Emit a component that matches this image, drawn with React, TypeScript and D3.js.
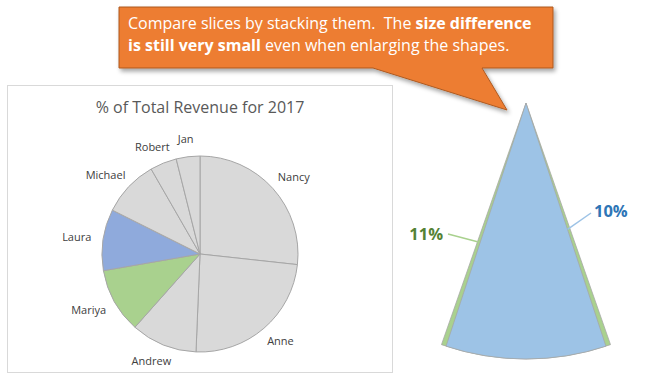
import React from "react";
import * as d3 from "d3";

const names = ["Nancy", "Anne", "Andrew", "Mariya", "Laura", "Michael", "Robert", "Jan"];
const shares = [26.7, 23.9, 10.9, 10.7, 10.1, 9.3, 4.4, 3.9];
const sliceColors = ["#D9D9D9", "#D9D9D9", "#D9D9D9", "#A9D18E", "#8FAADC", "#D9D9D9", "#D9D9D9", "#D9D9D9"];
const coneNames = ["Mariya", "Laura"];
const coneFills = ["#A9D18E", "#9DC3E6"];
const coneLabelColors = ["#548235", "#2E75B6"];
const chartTitle = "% of Total Revenue for 2017";
const calloutLine1 = [
  { t: "Compare slices by stacking them.  The ", b: false },
  { t: "size difference", b: true },
];
const calloutLine2 = [
  { t: "is still very small", b: true },
  { t: " even when enlarging the shapes.", b: false },
];

const FONT = "'Open Sans', sans-serif";

function measure(text: string, size: number, weight = "normal") {
  if (typeof document === "undefined") return text.length * size * 0.55;
  const c = document.createElement("canvas").getContext("2d");
  if (!c) return text.length * size * 0.55;
  c.font = `${weight} ${size}px 'Open Sans'`;
  return c.measureText(text).width;
}

export default function App() {
  const W = 647, H = 379;
  const cx = 200, cy = 254, r = 98;
  const pie = d3.pie<number>().sort(null).value((d) => d);
  const arcs = pie(shares);
  const arc = d3.arc<d3.PieArcDatum<number>>().innerRadius(0).outerRadius(r);
  const labelR = 110;
  const labelSize = 11;

  // cone
  const tipX = 526, tipY = 103, coneR = 256;
  const total = d3.sum(shares);
  const coneVals = coneNames.map((n) => shares[names.indexOf(n)]);
  const coneArc = d3.arc<any>().innerRadius(0).outerRadius(coneR);
  const pct = d3.format(".0%");

  const angleOf = (v: number) => (v / total) * 2 * Math.PI;
  const greenHalf = angleOf(coneVals[0]) / 2;
  const blueHalf = angleOf(coneVals[1]) / 2;
  const gA = Math.PI + greenHalf;
  const bA = Math.PI - blueHalf;
  const gEnd = [tipX + 147 * Math.sin(gA), tipY - 147 * Math.cos(gA)];
  const bEnd = [tipX + 133 * Math.sin(bA), tipY - 133 * Math.cos(bA)];

  return (
    <svg width={W} height={H} style={{ position: "absolute", left: 0, top: 0, background: "#fff" }} fontFamily={FONT}>
      <defs>
        <filter id="sh" x="-10%" y="-10%" width="130%" height="140%">
          <feDropShadow dx="2" dy="3" stdDeviation="2" floodColor="#000" floodOpacity="0.35" />
        </filter>
      </defs>

      {/* chart box */}
      <rect x={7.5} y={85.5} width={385} height={287} fill="#fff" stroke="#D9D9D9" strokeWidth={1} />
      <text x={cx} y={113} textAnchor="middle" fontSize={16} fill="#595959">{chartTitle}</text>

      <g transform={`translate(${cx},${cy})`}>
        {arcs.map((a, i) => (
          <path key={names[i]} d={arc(a) || ""} fill={sliceColors[i]} stroke="#A6A6A6" strokeWidth={1} />
        ))}
        {arcs.map((a, i) => {
          const mid = (a.startAngle + a.endAngle) / 2;
          const w = measure(names[i], labelSize);
          const h = 11;
          const px = labelR * Math.sin(mid) + (Math.sin(mid) * w) / 2;
          const py = -labelR * Math.cos(mid) - (Math.cos(mid) * h) / 2;
          return (
            <text key={"l" + names[i]} x={px} y={py} dy="0.35em" textAnchor="middle" fontSize={labelSize} fill="#404040">
              {names[i]}
            </text>
          );
        })}
      </g>

      {/* cone */}
      <g transform={`translate(${tipX},${tipY})`}>
        <path
          d={coneArc({ startAngle: Math.PI - greenHalf, endAngle: Math.PI + greenHalf }) || ""}
          fill={coneFills[0]}
          stroke="#A6A6A6"
          strokeWidth={0.75}
        />
        <path
          d={coneArc({ startAngle: Math.PI - blueHalf, endAngle: Math.PI + blueHalf }) || ""}
          fill={coneFills[1]}
          stroke="#A6A6A6"
          strokeWidth={0.75}
        />
      </g>
      <line x1={448} y1={234} x2={gEnd[0]} y2={gEnd[1]} stroke="#A9D18E" strokeWidth={1.5} />
      <line x1={591} y1={213} x2={bEnd[0]} y2={bEnd[1]} stroke="#9DC3E6" strokeWidth={1.5} />
      <text x={443} y={240} textAnchor="end" fontSize={16.5} fontWeight="bold" fill={coneLabelColors[0]}>
        {pct(coneVals[0] / total)}
      </text>
      <text x={594} y={217} textAnchor="start" fontSize={16.5} fontWeight="bold" fill={coneLabelColors[1]}>
        {pct(coneVals[1] / total)}
      </text>

      {/* callout */}
      <path
        d="M119,7 H553 V68 H482 L507,110 L373,68 H119 Z"
        fill="#ED7D31"
        stroke="#AE5A21"
        strokeWidth={1}
        filter="url(#sh)"
      />
      <text x={128} y={29} fontSize={16} fill="#fff">
        {calloutLine1.map((s, i) => (
          <tspan key={i} fontWeight={s.b ? "bold" : "normal"} style={{ whiteSpace: "pre" }}>{s.t}</tspan>
        ))}
      </text>
      <text x={128} y={51} fontSize={16} fill="#fff">
        {calloutLine2.map((s, i) => (
          <tspan key={i} fontWeight={s.b ? "bold" : "normal"} style={{ whiteSpace: "pre" }}>{s.t}</tspan>
        ))}
      </text>
    </svg>
  );
}
